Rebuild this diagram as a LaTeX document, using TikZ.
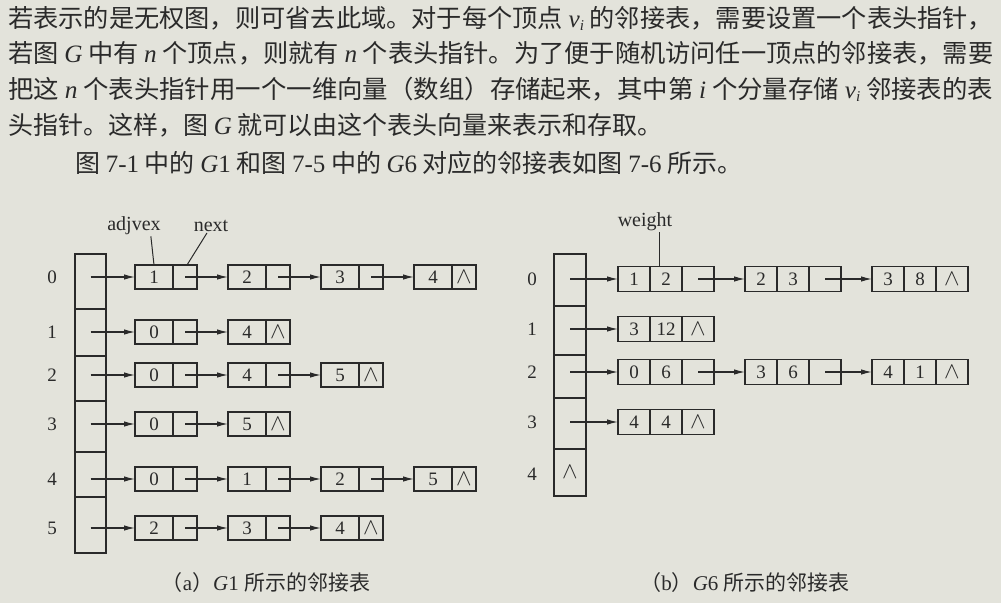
\documentclass[tikz,border=0pt]{standalone}
\usepackage{graphicx}
\usepackage{fontspec}
\setmainfont{Liberation Serif}
\newfontfamily\cjk{Noto Sans CJK SC}
\usetikzlibrary{arrows.meta}
\definecolor{paper}{RGB}{227,227,219}
\definecolor{ink}{RGB}{42,42,42}
\newcommand\mi[1]{{\rmfamily\itshape #1}}
\newcommand\mr[1]{{\rmfamily #1}}
\newcommand\vi{\mi{v}\raisebox{-3pt}{\fontsize{15}{15}\selectfont\rmfamily\itshape i}}
\newcommand\nil{\scalebox{1.35}{$\wedge$}}
\newcommand\LN[5]{\node[cella] (#1a) at (#2,#3) {#4}; \node[cellb] (#1b) at (#1a.east) {#5};}
\newcommand\WN[6]{\node[wcell] (#1a) at (#2,#3) {#4}; \node[wcell] (#1b) at (#1a.east) {#5}; \node[wcell] (#1c) at (#1b.east) {#6};}
\begin{document}
\begin{tikzpicture}[x=1pt,y=-1pt,
  every node/.style={text=ink},
  cella/.style={draw=ink, line width=1.3pt, minimum height=24pt, minimum width=38pt, inner sep=0pt, outer sep=0pt, anchor=west, font=\fontsize{19}{19}\selectfont},
  cellb/.style={cella, minimum width=24pt},
  wcell/.style={cella, minimum height=25pt, minimum width=32pt},
  headcell/.style={draw=ink, line width=1.3pt, inner sep=0pt, outer sep=0pt},
  ptr/.style={draw=ink, line width=1.2pt, -{Latex[length=11pt,width=5.5pt]}},
  lead/.style={draw=ink, line width=1pt},
  idx/.style={font=\fontsize{19}{19}\selectfont},
  fld/.style={font=\fontsize{20}{20}\selectfont, inner sep=1pt},
  para/.style={font=\cjk\fontsize{25}{25}\selectfont, anchor=west, inner sep=0pt},
  captxt/.style={font=\fontsize{21}{21}\selectfont}
]
\fill[paper] (0,0) rectangle (1001,603);
\useasboundingbox (0,0) rectangle (1001,603);

% paragraph
\node[para] (p1) at (8,18) {\resizebox{985pt}{\height}{若表示的是无权图，则可省去此域。对于每个顶点 \vi\ 的邻接表，需要设置一个表头指针，}};
\node[para] (p2) at (8,53) {\resizebox{985pt}{\height}{若图 \mi{G} 中有 \mi{n} 个顶点，则就有 \mi{n} 个表头指针。为了便于随机访问任一顶点的邻接表，需要}};
\node[para] (p3) at (8,89) {\resizebox{985pt}{\height}{把这 \mi{n} 个表头指针用一个一维向量（数组）存储起来，其中第 \mi{i} 个分量存储 \vi\ 邻接表的表}};
\node[para] (p4) at (8,125) {头指针。这样，图 \mi{G} 就可以由这个表头向量来表示和存取。};
\node[para] (p5) at (75,163) {图 \mr{7-1} 中的 \mi{G}\mr{1} 和图 \mr{7-5} 中的 \mi{G}\mr{6} 对应的邻接表如图 \mr{7-6} 所示。};

% ---------- (a) G1 ----------
\node[headcell, minimum width=31pt, minimum height=55pt] (a0) at (90.5,281.5) {};
\node[headcell, minimum width=31pt, minimum height=47pt] (a1) at (90.5,332.5) {};
\node[headcell, minimum width=31pt, minimum height=45pt] (a2) at (90.5,378.5) {};
\node[headcell, minimum width=31pt, minimum height=51pt] (a3) at (90.5,426.5) {};
\node[headcell, minimum width=31pt, minimum height=45pt] (a4) at (90.5,474.5) {};
\node[headcell, minimum width=31pt, minimum height=56pt] (a5) at (90.5,525) {};
\node[idx] (ia0) at (52,277) {0};
\node[idx] (ia1) at (52,332) {1};
\node[idx] (ia2) at (52,375) {2};
\node[idx] (ia3) at (52,424) {3};
\node[idx] (ia4) at (52,479) {4};
\node[idx] (ia5) at (52,528) {5};

\LN{l00}{135}{277}{1}{}
\LN{l01}{228}{277}{2}{}
\LN{l02}{321}{277}{3}{}
\LN{l03}{414}{277}{4}{\nil}
\LN{l10}{135}{332}{0}{}
\LN{l11}{228}{332}{4}{\nil}
\LN{l20}{135}{375}{0}{}
\LN{l21}{228}{375}{4}{}
\LN{l22}{321}{375}{5}{\nil}
\LN{l30}{135}{424}{0}{}
\LN{l31}{228}{424}{5}{\nil}
\LN{l40}{135}{479}{0}{}
\LN{l41}{228}{479}{1}{}
\LN{l42}{321}{479}{2}{}
\LN{l43}{414}{479}{5}{\nil}
\LN{l50}{135}{528}{2}{}
\LN{l51}{228}{528}{3}{}
\LN{l52}{321}{528}{4}{\nil}

\draw[ptr] (a0.center |- l00a.west) -- (l00a.west);
\draw[ptr] (l00b.center) -- (l01a.west);
\draw[ptr] (l01b.center) -- (l02a.west);
\draw[ptr] (l02b.center) -- (l03a.west);
\draw[ptr] (a1.center |- l10a.west) -- (l10a.west);
\draw[ptr] (l10b.center) -- (l11a.west);
\draw[ptr] (a2.center |- l20a.west) -- (l20a.west);
\draw[ptr] (l20b.center) -- (l21a.west);
\draw[ptr] (l21b.center) -- (l22a.west);
\draw[ptr] (a3.center |- l30a.west) -- (l30a.west);
\draw[ptr] (l30b.center) -- (l31a.west);
\draw[ptr] (a4.center |- l40a.west) -- (l40a.west);
\draw[ptr] (l40b.center) -- (l41a.west);
\draw[ptr] (l41b.center) -- (l42a.west);
\draw[ptr] (l42b.center) -- (l43a.west);
\draw[ptr] (a5.center |- l50a.west) -- (l50a.west);
\draw[ptr] (l50b.center) -- (l51a.west);
\draw[ptr] (l51b.center) -- (l52a.west);

\node[fld] (adj) at (134,226) {adjvex};
\node[fld] (nxt) at (211,226) {next};
\draw[lead] ([xshift=-11pt]adj.south east) -- (l00a.north);
\draw[lead] ([xshift=-4pt]nxt.south) -- ([xshift=2pt]l00b.north);

\node[captxt] (capa) at (266,583) {{\cjk （}a{\cjk ）}\mi{G}1 {\cjk 所示的邻接表}};

% ---------- (b) G6 ----------
\node[headcell, minimum width=32pt, minimum height=52pt] (b0) at (570,280) {};
\node[headcell, minimum width=32pt, minimum height=49pt] (b1) at (570,330.5) {};
\node[headcell, minimum width=32pt, minimum height=43pt] (b2) at (570,376.5) {};
\node[headcell, minimum width=32pt, minimum height=51pt] (b3) at (570,423.5) {};
\node[headcell, minimum width=32pt, minimum height=47pt, font=\fontsize{19}{19}\selectfont] (b4) at (570,472.5) {\nil};
\node[idx] (ib0) at (532,279) {0};
\node[idx] (ib1) at (532,329) {1};
\node[idx] (ib2) at (532,372) {2};
\node[idx] (ib3) at (532,422) {3};
\node[idx] (ib4) at (532,474) {4};

\WN{r00}{618}{279}{1}{2}{}
\WN{r01}{745}{279}{2}{3}{}
\WN{r02}{872}{279}{3}{8}{\nil}
\WN{r10}{618}{329}{3}{12}{\nil}
\WN{r20}{618}{372}{0}{6}{}
\WN{r21}{745}{372}{3}{6}{}
\WN{r22}{872}{372}{4}{1}{\nil}
\WN{r30}{618}{422}{4}{4}{\nil}

\draw[ptr] (b0.center |- r00a.west) -- (r00a.west);
\draw[ptr] (r00c.center) -- (r01a.west);
\draw[ptr] (r01c.center) -- (r02a.west);
\draw[ptr] (b1.center |- r10a.west) -- (r10a.west);
\draw[ptr] (b2.center |- r20a.west) -- (r20a.west);
\draw[ptr] (r20c.center) -- (r21a.west);
\draw[ptr] (r21c.center) -- (r22a.west);
\draw[ptr] (b3.center |- r30a.west) -- (r30a.west);

\node[fld] (wt) at (645,222) {weight};
\coordinate (wl) at ([xshift=-7pt]r00b.north);
\draw[lead] (wt.south -| wl) -- (wl);

\node[captxt] (capb) at (745,583) {{\cjk （}b{\cjk ）}\mi{G}6 {\cjk 所示的邻接表}};
\end{tikzpicture}
\end{document}
